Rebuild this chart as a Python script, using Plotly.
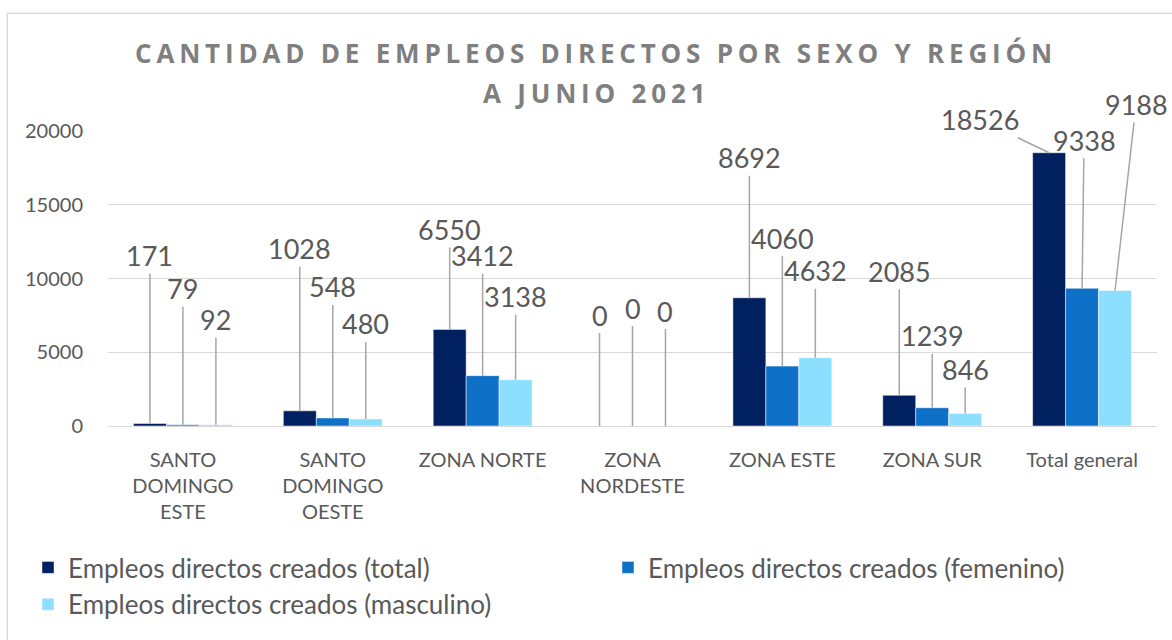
import plotly.graph_objects as go

# ---- data ----
categories = ["SANTO<br>DOMINGO<br>ESTE", "SANTO<br>DOMINGO<br>OESTE", "ZONA NORTE",
              "ZONA<br>NORDESTE", "ZONA ESTE", "ZONA SUR", "Total general"]
series_names = ["Empleos directos creados (total)",
                "Empleos directos creados (femenino)",
                "Empleos directos creados (masculino)"]
total = [171, 1028, 6550, 0, 8692, 2085, 18526]
femenino = [79, 548, 3412, 0, 4060, 1239, 9338]
masculino = [92, 480, 3138, 0, 4632, 846, 9188]
y_ticks = [0, 5000, 10000, 15000, 20000]
y_ticktext = ["0", "5000", "10000", "15000", "20000"]
title_line1 = "CANTIDAD DE EMPLEOS DIRECTOS POR SEXO Y REGIÓN"
title_line2 = "A JUNIO 2021"

# ---- styling / label placement (pixel offsets of callout text from bar top) ----
colors = ["#002060", "#0E70C7", "#8CDFFF"]
label_dx = [[0, 0, 0, 0, 0, 0, -69],
            [0, 0, 0, 0, 0, 0, 2],
            [0, 0, 0, 0, 0, 0, 21]]
label_dy = [[-168, -162, -100, -111, -140, -124, -33],
            [-136, -131, -120, -118, -128, -72, -148],
            [-105, -95, -83, -115, -87, -44, -186]]

W, H = 1172, 640
ML, MR, MT, MB = 108, 15, 131, 214
PW, PH = W - ML - MR, H - MT - MB
BARGAP = 0.34

font_family = "Lato, 'Open Sans', sans-serif"
txt_color = "#595959"

fig = go.Figure()
all_series = [total, femenino, masculino]
for name, vals, col in zip(series_names, all_series, colors):
    fig.add_trace(go.Bar(
        x=list(range(len(categories))), y=vals, name=name,
        marker=dict(color=col, line=dict(color="white", width=0.5)),
        hoverinfo="x+y+name"))

# callout labels with leader lines
group_w = 1 - BARGAP
offsets = [-group_w / 3, 0, group_w / 3]
annotations = []
for k, vals in enumerate(all_series):
    for i, v in enumerate(vals):
        annotations.append(dict(
            x=i + offsets[k], y=v, xref="x", yref="y",
            text=str(v), showarrow=True, arrowhead=0, arrowwidth=1.5,
            arrowcolor="#A6A6A6", ax=label_dx[k][i], ay=label_dy[k][i],
            font=dict(family=font_family, size=27, color=txt_color)))

# second title line
annotations.append(dict(
    text="<b><span style='letter-spacing:4.8px'>" + title_line2 + "</span></b>",
    xref="paper", yref="paper", x=(596 - ML) / PW, y=(H - MB - 93) / PH,
    xanchor="center", yanchor="middle", showarrow=False,
    font=dict(family="'Open Sans', sans-serif", size=26, color="#7F7F7F")))

fig.update_layout(
    width=W, height=H,
    margin=dict(l=ML, r=MR, t=MT, b=MB, autoexpand=False),
    paper_bgcolor="white", plot_bgcolor="white",
    barmode="group", bargap=BARGAP, bargroupgap=0,
    title=dict(text="<b><span style='letter-spacing:4.8px'>" + title_line1 + "</span></b>",
               x=596 / W, xanchor="center", xref="container",
               y=1 - 53.7 / H, yanchor="middle", yref="container",
               font=dict(family="'Open Sans', sans-serif", size=26, color="#7F7F7F")),
    xaxis=dict(tickmode="array", tickvals=list(range(len(categories))), ticktext=categories,
               range=[-0.5, len(categories) - 0.5],
               showgrid=False, zeroline=False, showline=False,
               ticks="outside", ticklen=16, tickcolor="rgba(0,0,0,0)",
               tickfont=dict(family=font_family, size=20, color=txt_color)),
    yaxis=dict(range=[0, 20000], tickmode="array", tickvals=y_ticks, ticktext=y_ticktext,
               showgrid=True, gridcolor="#D9D9D9",
               gridwidth=1.3, zeroline=True, zerolinecolor="#D9D9D9", zerolinewidth=1.3,
               showline=False, ticks="outside", ticklen=20, tickcolor="rgba(0,0,0,0)",
               tickfont=dict(family=font_family, size=20, color=txt_color)),
    legend=dict(orientation="h", xref="paper", yref="paper",
                x=(28 - ML) / PW, xanchor="left", y=(H - MB - 544) / PH, yanchor="top",
                entrywidth=535, entrywidthmode="pixels",
                font=dict(family=font_family, size=26, color=txt_color),
                traceorder="normal"),
    annotations=annotations,
    shapes=[dict(type="rect", xref="paper", yref="paper",
                 x0=(7.3 - ML) / PW, x1=(W + 20 - ML) / PW,
                 y0=(H - MB - (H + 20)) / PH, y1=(H - MB - 13.3) / PH,
                 line=dict(color="#D9D9D9", width=1.3), layer="below")],
    showlegend=True,
)

fig.write_html("out.html", config={"displayModeBar": False},
               post_script="document.body.style.margin='0';")
